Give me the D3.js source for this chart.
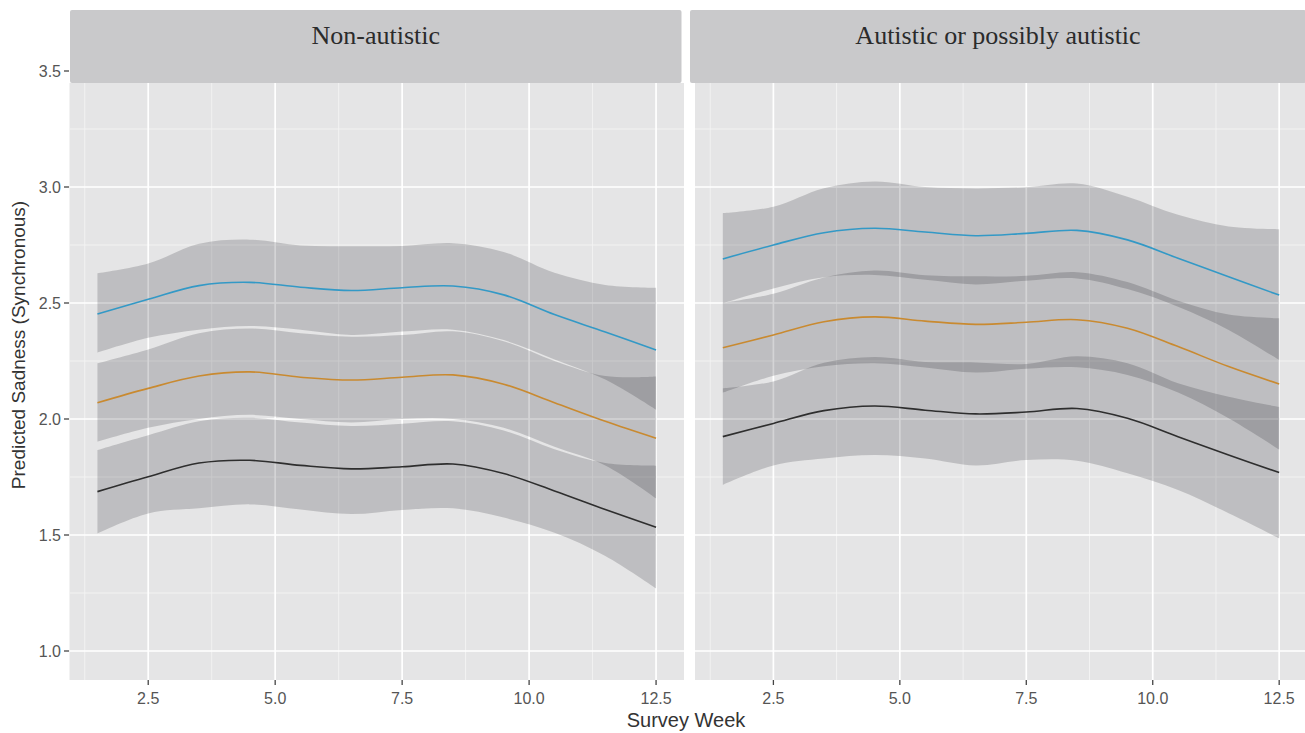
<!DOCTYPE html>
<html>
<head>
<meta charset="utf-8">
<script src="https://cdn.jsdelivr.net/npm/d3@7/dist/d3.min.js"></script>
<style>
  body { margin: 0; background: #fff; }
  .tick-label { font-family: "Liberation Sans", Arial, sans-serif; font-size: 16px; fill: #555; }
  .axis-title { font-family: "Liberation Sans", Arial, sans-serif; fill: #333; }
  .strip-text { font-family: "Liberation Serif", "Times New Roman", serif; font-size: 26px; fill: #2b2b2b; }
</style>
</head>
<body>
<div class="chart"></div>
<script>
// data
var weeks = [1.5, 2.5, 3.5, 4.5, 5.5, 6.5, 7.5, 8.5, 9.5, 10.5, 11.5, 12.5];
var facets = ["Non-autistic", "Autistic or possibly autistic"];
var xTicks = [2.5, 5.0, 7.5, 10.0, 12.5];
var xMinor = [1.25, 3.75, 6.25, 8.75, 11.25];
var yTicks = [1.0, 1.5, 2.0, 2.5, 3.0, 3.5];
var yMinor = [1.25, 1.75, 2.25, 2.75, 3.25];

// Non-autistic
var leftBlue = [2.453, 2.516, 2.575, 2.589, 2.568, 2.554, 2.566, 2.573, 2.535, 2.45, 2.375, 2.297];
var leftBlueLo = [2.286, 2.35, 2.385, 2.401, 2.385, 2.362, 2.377, 2.385, 2.34, 2.257, 2.17, 2.04];
var leftBlueHi = [2.628, 2.67, 2.755, 2.773, 2.748, 2.745, 2.746, 2.758, 2.72, 2.63, 2.578, 2.566];
var leftOrange = [2.070, 2.132, 2.185, 2.203, 2.18, 2.168, 2.18, 2.19, 2.15, 2.07, 1.99, 1.917];
var leftOrangeLo = [1.902, 1.962, 2.0, 2.018, 2.0, 1.985, 2.0, 2.0, 1.962, 1.88, 1.80, 1.658];
var leftOrangeHi = [2.24, 2.30, 2.37, 2.39, 2.37, 2.355, 2.362, 2.378, 2.335, 2.25, 2.185, 2.183];
var leftBlack = [1.687, 1.751, 1.81, 1.822, 1.80, 1.785, 1.794, 1.806, 1.765, 1.69, 1.61, 1.533];
var leftBlackLo = [1.507, 1.593, 1.615, 1.632, 1.61, 1.59, 1.608, 1.615, 1.575, 1.51, 1.41, 1.27];
var leftBlackHi = [1.866, 1.93, 1.99, 2.005, 1.985, 1.97, 1.98, 1.99, 1.95, 1.87, 1.81, 1.799];

// Autistic or possibly autistic
var rightBlue = [2.69, 2.75, 2.803, 2.822, 2.806, 2.79, 2.80, 2.813, 2.772, 2.693, 2.613, 2.534];
var rightBlueLo = [2.499, 2.563, 2.611, 2.621, 2.60, 2.58, 2.596, 2.606, 2.56, 2.484, 2.384, 2.254];
var rightBlueHi = [2.887, 2.915, 2.995, 3.024, 3.00, 2.994, 2.999, 3.015, 2.958, 2.88, 2.83, 2.818];
var rightOrange = [2.307, 2.362, 2.419, 2.44, 2.422, 2.408, 2.417, 2.428, 2.391, 2.312, 2.226, 2.151];
var rightOrangeLo = [2.113, 2.186, 2.227, 2.24, 2.222, 2.20, 2.217, 2.223, 2.19, 2.114, 2.003, 1.868];
var rightOrangeHi = [2.50, 2.54, 2.61, 2.64, 2.62, 2.615, 2.617, 2.633, 2.59, 2.51, 2.45, 2.434];
var rightBlack = [1.924, 1.981, 2.036, 2.056, 2.038, 2.022, 2.03, 2.045, 2.003, 1.924, 1.845, 1.769];
var rightBlackLo = [1.716, 1.80, 1.83, 1.845, 1.83, 1.80, 1.823, 1.82, 1.766, 1.694, 1.594, 1.486];
var rightBlackHi = [2.132, 2.162, 2.242, 2.267, 2.246, 2.244, 2.237, 2.27, 2.24, 2.154, 2.096, 2.052];

var colors = { blue: "#3399c6", orange: "#c98a30", black: "#2e2e2e" };

var width = 1305, height = 733;
var svg = d3.select(".chart").append("svg")
  .attr("width", width)
  .attr("height", height);

var y = d3.scaleLinear().domain([1.0, 3.5]).range([651, 71]);
var panelTop = 83, panelBottom = 680;

var panels = [
  { name: facets[0], x0: 69.5, x1: 684, stripX0: 70, stripX1: 681.5,
    series: [
      { fit: leftBlue, lo: leftBlueLo, hi: leftBlueHi, color: colors.blue },
      { fit: leftOrange, lo: leftOrangeLo, hi: leftOrangeHi, color: colors.orange },
      { fit: leftBlack, lo: leftBlackLo, hi: leftBlackHi, color: colors.black }
    ] },
  { name: facets[1], x0: 695, x1: 1307, stripX0: 690, stripX1: 1306,
    series: [
      { fit: rightBlue, lo: rightBlueLo, hi: rightBlueHi, color: colors.blue },
      { fit: rightOrange, lo: rightOrangeLo, hi: rightOrangeHi, color: colors.orange },
      { fit: rightBlack, lo: rightBlackLo, hi: rightBlackHi, color: colors.black }
    ] }
];

var curve = d3.curveCatmullRom.alpha(0.5);

panels.forEach(function(p, pi) {
  var x = d3.scaleLinear().domain([0.95, 13.05]).range([p.x0, p.x1]);
  var g = svg.append("g");

  g.append("clipPath").attr("id", "clip" + pi)
    .append("rect")
    .attr("x", p.x0).attr("y", panelTop)
    .attr("width", p.x1 - p.x0).attr("height", panelBottom - panelTop);

  g.append("rect")
    .attr("x", p.x0).attr("y", panelTop)
    .attr("width", p.x1 - p.x0).attr("height", panelBottom - panelTop)
    .attr("fill", "#e5e5e6");

  var grid = g.append("g").attr("clip-path", "url(#clip" + pi + ")");
  grid.selectAll(".ymin").data(yMinor).enter().append("line")
    .attr("x1", p.x0).attr("x2", p.x1)
    .attr("y1", function(d) { return y(d); }).attr("y2", function(d) { return y(d); })
    .attr("stroke", "#f4f4f4").attr("stroke-width", 0.9);
  grid.selectAll(".xmin").data(xMinor).enter().append("line")
    .attr("y1", panelTop).attr("y2", panelBottom)
    .attr("x1", function(d) { return x(d); }).attr("x2", function(d) { return x(d); })
    .attr("stroke", "#f4f4f4").attr("stroke-width", 0.9);
  grid.selectAll(".ymaj").data(yTicks).enter().append("line")
    .attr("x1", p.x0).attr("x2", p.x1)
    .attr("y1", function(d) { return y(d); }).attr("y2", function(d) { return y(d); })
    .attr("stroke", "#ffffff").attr("stroke-width", 1.7);
  grid.selectAll(".xmaj").data(xTicks).enter().append("line")
    .attr("y1", panelTop).attr("y2", panelBottom)
    .attr("x1", function(d) { return x(d); }).attr("x2", function(d) { return x(d); })
    .attr("stroke", "#ffffff").attr("stroke-width", 1.7);

  var area = d3.area()
    .x(function(d) { return x(d.w); })
    .y0(function(d) { return y(d.lo); })
    .y1(function(d) { return y(d.hi); })
    .curve(curve);
  var line = d3.line()
    .x(function(d) { return x(d.w); })
    .y(function(d) { return y(d.v); })
    .curve(curve);

  var marks = g.append("g").attr("clip-path", "url(#clip" + pi + ")");
  p.series.forEach(function(s) {
    var rows = weeks.map(function(w, i) { return { w: w, lo: s.lo[i], hi: s.hi[i] }; });
    marks.append("path")
      .datum(rows)
      .attr("d", area)
      .attr("fill", "#00000a")
      .attr("fill-opacity", 0.17);
  });
  p.series.forEach(function(s) {
    var rows = weeks.map(function(w, i) { return { w: w, v: s.fit[i] }; });
    marks.append("path")
      .datum(rows)
      .attr("d", line)
      .attr("fill", "none")
      .attr("stroke", s.color)
      .attr("stroke-width", 1.6);
  });

  // strip
  g.append("rect")
    .attr("x", p.stripX0).attr("y", 10)
    .attr("width", p.stripX1 - p.stripX0).attr("height", 73)
    .attr("rx", 2)
    .attr("fill", "#c9c9cb");
  g.append("text")
    .attr("class", "strip-text")
    .attr("x", (p.stripX0 + p.stripX1) / 2)
    .attr("y", 44)
    .attr("text-anchor", "middle")
    .text(p.name);

  // x ticks
  g.selectAll(".xt").data(xTicks).enter().append("line")
    .attr("x1", function(d) { return x(d); }).attr("x2", function(d) { return x(d); })
    .attr("y1", panelBottom).attr("y2", panelBottom + 5)
    .attr("stroke", "#444").attr("stroke-width", 1.3);
  g.selectAll(".xl").data(xTicks).enter().append("text")
    .attr("class", "tick-label")
    .attr("x", function(d) { return x(d); })
    .attr("y", 704)
    .attr("text-anchor", "middle")
    .text(function(d) { return d3.format(".1f")(d); });
});

// y axis on the left panel
svg.selectAll(".yt").data(yTicks).enter().append("line")
  .attr("x1", 64).attr("x2", 69)
  .attr("y1", function(d) { return y(d); }).attr("y2", function(d) { return y(d); })
  .attr("stroke", "#444").attr("stroke-width", 1.3);
svg.selectAll(".yl").data(yTicks).enter().append("text")
  .attr("class", "tick-label")
  .attr("x", 61)
  .attr("y", function(d) { return y(d) + 6; })
  .attr("text-anchor", "end")
  .text(function(d) { return d3.format(".1f")(d); });

svg.append("text")
  .attr("class", "axis-title")
  .attr("font-size", 19)
  .attr("transform", "translate(25,345) rotate(-90)")
  .attr("text-anchor", "middle")
  .text("Predicted Sadness (Synchronous)");

svg.append("text")
  .attr("class", "axis-title")
  .attr("font-size", 20)
  .attr("x", 686)
  .attr("y", 727)
  .attr("text-anchor", "middle")
  .text("Survey Week");
</script>
</body>
</html>
